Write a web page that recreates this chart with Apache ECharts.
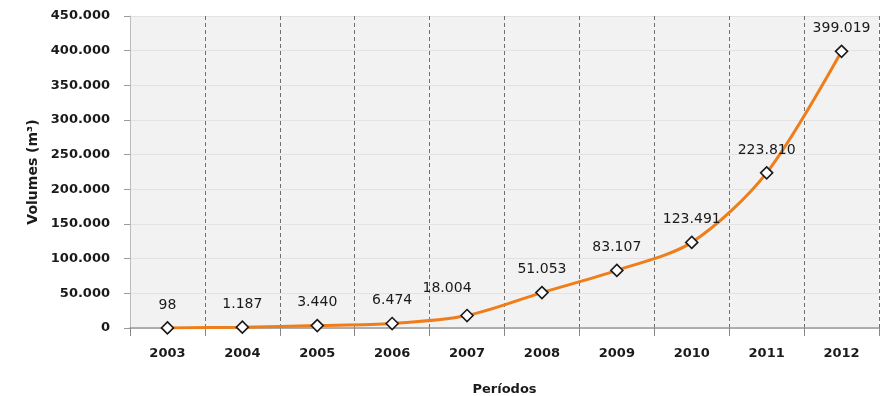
<!DOCTYPE html>
<html>
<head>
<meta charset="utf-8">
<script src="https://cdn.jsdelivr.net/npm/echarts@6/dist/echarts.min.js"></script>
<style>
  html, body { margin: 0; padding: 0; background: #fff; }
  #chart { width: 888px; height: 396px; }
</style>
</head>
<body>
<div id="chart"></div>
<script>
// Annual volumes by period
const periods = ['2003', '2004', '2005', '2006', '2007', '2008', '2009', '2010', '2011', '2012'];
const volumes = [98, 1187, 3440, 6474, 18004, 51053, 83107, 123491, 223810, 399019];
const yTicks = { min: 0, max: 450000, interval: 50000 };

// Thousands separated with a dot
function fmt(v) {
  return String(Math.round(v)).replace(/\B(?=(\d{3})+(?!\d))/g, '.');
}

const font = 'DejaVu Sans';
const ink = '#1a1a1a';

// The 2007 label is nudged up-left so it clears the neighbouring one
const seriesData = volumes.map((v, i) => {
  const item = { value: v };
  if (periods[i] === '2007') item.label = { offset: [-20, -4] };
  return item;
});

const chart = echarts.init(document.getElementById('chart'));

chart.setOption({
  animation: false,
  textStyle: { fontFamily: font },
  grid: {
    left: 130, right: 9, top: 16, bottom: 68,
    outerBoundsMode: 'none',
    containLabel: false,
    backgroundColor: '#f2f2f2', show: true, borderWidth: 0
  },
  xAxis: {
    type: 'category',
    data: periods,
    boundaryGap: true,
    name: 'Períodos',
    nameLocation: 'middle',
    nameGap: 55,
    nameTextStyle: { fontSize: 13, fontWeight: 'bold', color: ink, fontFamily: font },
    axisLine: { show: true, lineStyle: { color: '#999', width: 1.5 } },
    axisTick: { show: true, length: 8, lineStyle: { color: '#888' } },
    axisLabel: { fontSize: 13, fontWeight: 'bold', color: ink, margin: 19, fontFamily: font },
    splitLine: { show: true, lineStyle: { color: '#707070', type: [4, 3], width: 1 } }
  },
  yAxis: {
    type: 'value',
    min: yTicks.min,
    max: yTicks.max,
    interval: yTicks.interval,
    name: 'Volumes (m³)',
    nameLocation: 'middle',
    nameGap: 90,
    nameTextStyle: { fontSize: 14, fontWeight: 'bold', color: ink, fontFamily: font },
    axisLine: { show: true, lineStyle: { color: '#bbb' } },
    axisTick: { show: true, length: 6, lineStyle: { color: '#999' } },
    axisLabel: { fontSize: 13, fontWeight: 'bold', color: ink, margin: 20, formatter: fmt, fontFamily: font },
    splitLine: { show: true, lineStyle: { color: '#e2e2e2', width: 1 } }
  },
  series: [{
    type: 'line',
    data: seriesData,
    smooth: 0.3,
    symbol: 'diamond',
    symbolSize: 12,
    lineStyle: { color: '#ef7d1a', width: 3 },
    itemStyle: { color: '#fff', borderColor: '#1a1a1a', borderWidth: 1.6 },
    label: {
      show: true,
      position: 'top',
      distance: 9,
      fontSize: 14,
      color: ink,
      fontFamily: font,
      formatter: p => fmt(p.value)
    },
    z: 5
  }]
});
</script>
</body>
</html>
